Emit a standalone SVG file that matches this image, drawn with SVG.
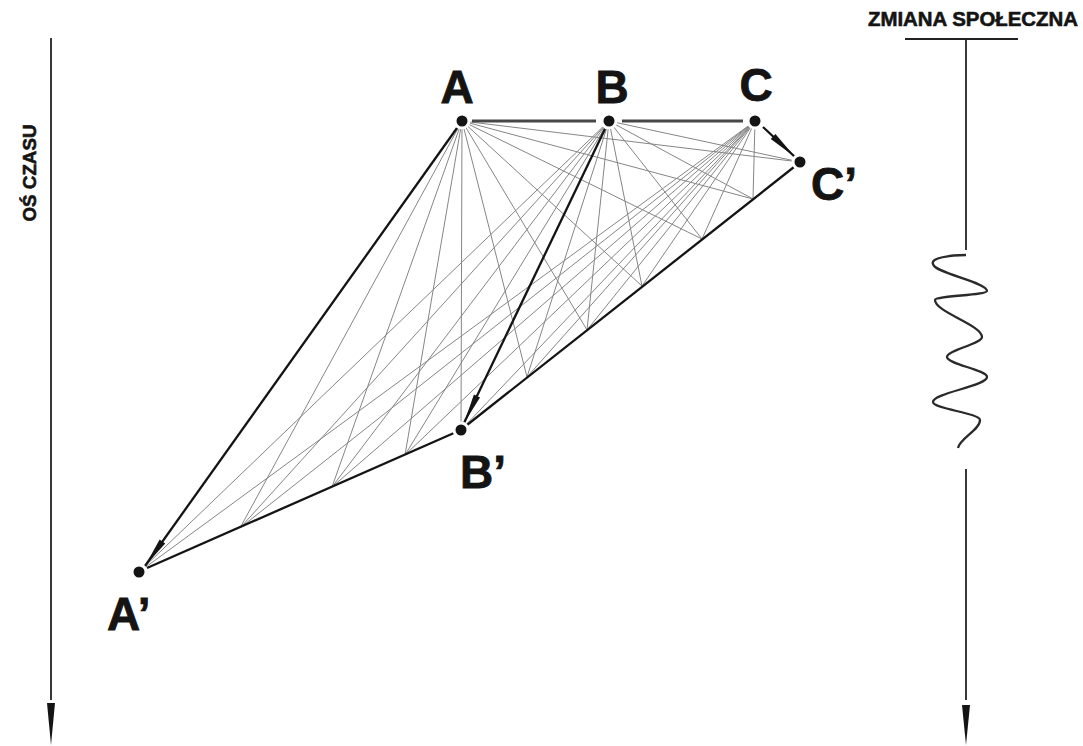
<svg xmlns="http://www.w3.org/2000/svg" width="1083" height="746" viewBox="0 0 1083 746">
<style>
.g{stroke:#868686;stroke-width:1;fill:none}
.k{stroke:#141414;stroke-width:2.3;fill:none;stroke-linecap:butt}
.h{stroke:#474747;stroke-width:3;fill:none}
.ax{stroke:#222;stroke-width:1.8;fill:none}
.dot{fill:#141414;stroke:#fff;stroke-width:3}
.lbl{font-family:"Liberation Sans",Arial,sans-serif;font-weight:bold;font-size:46px;fill:#141414;stroke:#141414;stroke-width:0.8}
.ttl{font-family:"Liberation Sans",Arial,sans-serif;font-weight:bold;fill:#141414;stroke:#141414;stroke-width:0.6}
</style>
<defs>
<marker id="arr" viewBox="-32 -4 34 8" markerWidth="34" markerHeight="8" refX="0" refY="0" markerUnits="userSpaceOnUse" orient="auto">
<path d="M0,0 L-30,-3.4 L-30,3.4 Z" fill="#141414"/>
</marker>
</defs>
<rect width="1083" height="746" fill="#fff"/>

<g id="axis-time">
<line class="ax" x1="51" y1="38" x2="51" y2="700"/>
<polygon points="47,703 55,703 51,745" fill="#141414"/>
<text class="ttl" font-size="19" text-anchor="middle" textLength="97" lengthAdjust="spacingAndGlyphs" transform="translate(36,173) rotate(-90)">OŚ CZASU</text>
</g>

<g id="axis-change">
<text class="ttl" font-size="21" x="868" y="26" textLength="210" lengthAdjust="spacingAndGlyphs">ZMIANA SPOŁECZNA</text>
<line class="ax" x1="905" y1="39" x2="1018" y2="39"/>
<line class="ax" x1="966" y1="39" x2="966" y2="250" stroke-width="2"/>
<path d="M966,255 C950,255 930,258 933,264 C934,273 987,282 987,291 C987,295 935,296 935,300 C935,312 982,325 982,337 C982,344 947,350 947,357 C947,364 987,370 987,377 C987,386 933,393 933,402 C933,409 980,413 980,420 C980,430 960,438 958,448" fill="none" stroke="#2a2a2a" stroke-width="2.3"/>
<line class="ax" x1="966" y1="469" x2="966" y2="700" stroke-width="2.2"/>
<polygon points="962,705 970,705 966,745" fill="#141414"/>
</g>

<g id="connectors">
<g id="gray-lines">
<line class="g" x1="462" y1="121" x2="240" y2="528"/>
<line class="g" x1="462" y1="121" x2="332" y2="487"/>
<line class="g" x1="462" y1="121" x2="405" y2="455"/>
<line class="g" x1="462" y1="121" x2="461" y2="430"/>
<line class="g" x1="462" y1="121" x2="527" y2="377"/>
<line class="g" x1="462" y1="121" x2="587" y2="330"/>
<line class="g" x1="462" y1="121" x2="642" y2="286"/>
<line class="g" x1="462" y1="121" x2="702" y2="239"/>
<line class="g" x1="462" y1="121" x2="753" y2="199"/>
<line class="g" x1="462" y1="121" x2="800" y2="162"/>

<line class="g" x1="609" y1="121" x2="139" y2="572"/>
<line class="g" x1="609" y1="121" x2="240" y2="528"/>
<line class="g" x1="609" y1="121" x2="332" y2="487"/>
<line class="g" x1="609" y1="121" x2="405" y2="455"/>
<line class="g" x1="609" y1="121" x2="527" y2="377"/>
<line class="g" x1="609" y1="121" x2="587" y2="330"/>
<line class="g" x1="609" y1="121" x2="642" y2="286"/>
<line class="g" x1="609" y1="121" x2="702" y2="239"/>
<line class="g" x1="609" y1="121" x2="753" y2="199"/>
<line class="g" x1="609" y1="121" x2="800" y2="162"/>

<line class="g" x1="755" y1="121" x2="139" y2="572"/>
<line class="g" x1="755" y1="121" x2="240" y2="528"/>
<line class="g" x1="755" y1="121" x2="332" y2="487"/>
<line class="g" x1="755" y1="121" x2="405" y2="455"/>
<line class="g" x1="755" y1="121" x2="461" y2="430"/>
<line class="g" x1="755" y1="121" x2="527" y2="377"/>
<line class="g" x1="755" y1="121" x2="587" y2="330"/>
<line class="g" x1="755" y1="121" x2="642" y2="286"/>
<line class="g" x1="755" y1="121" x2="702" y2="239"/>
<line class="g" x1="755" y1="121" x2="753" y2="199"/>
</g>
<line class="h" x1="472" y1="121" x2="596" y2="121"/>
<line class="h" x1="622" y1="121" x2="743" y2="121"/>
<line class="k" x1="457" y1="128" x2="145" y2="566" marker-end="url(#arr)"/>
<line class="k" x1="605" y1="129" x2="464" y2="423" stroke-width="2.7" marker-end="url(#arr)"/>
<line class="k" x1="763" y1="127" x2="795" y2="157" marker-end="url(#arr)"/>
<line class="k" x1="147" y1="568" x2="454" y2="433"/>
<line class="k" x1="467" y1="425" x2="794" y2="167"/>
</g>

<g id="node-A"><circle class="dot" cx="462" cy="121" r="7"/><text class="lbl" x="457" y="103" text-anchor="middle">A</text></g>
<g id="node-B"><circle class="dot" cx="609" cy="121" r="7"/><text class="lbl" x="612" y="103" text-anchor="middle">B</text></g>
<g id="node-C"><circle class="dot" cx="755" cy="121" r="7"/><text class="lbl" x="756" y="101" text-anchor="middle">C</text></g>
<g id="node-C2"><circle class="dot" cx="800" cy="162" r="7"/><text class="lbl" x="811" y="200">C’</text></g>
<g id="node-B2"><circle class="dot" cx="461" cy="430" r="7"/><text class="lbl" x="460" y="488">B’</text></g>
<g id="node-A2"><circle class="dot" cx="139" cy="572" r="7"/><text class="lbl" x="107" y="630">A’</text></g>
</svg>
